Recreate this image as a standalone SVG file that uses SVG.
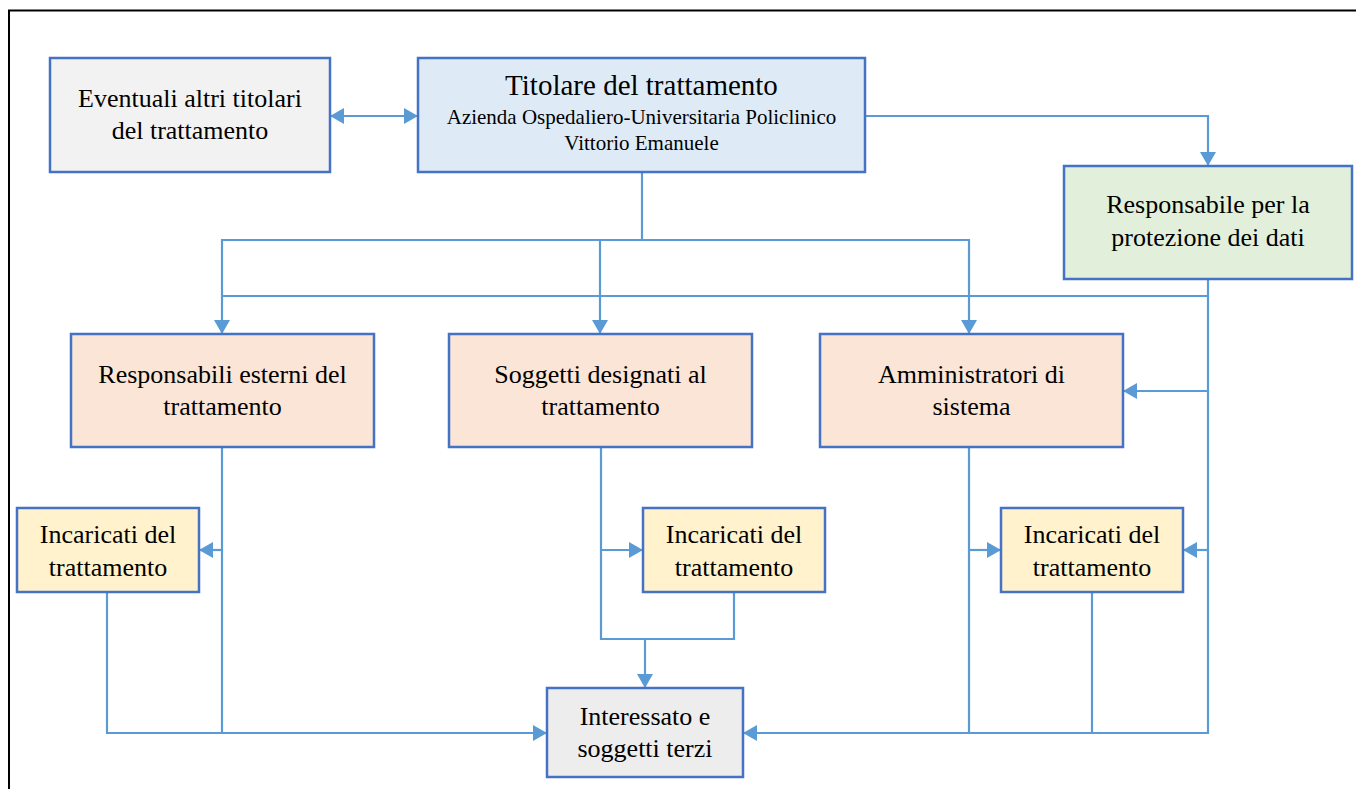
<svg xmlns="http://www.w3.org/2000/svg" width="1356" height="789" viewBox="0 0 1356 789">
<style>
.box{stroke:#4472c4;stroke-width:2.5}
.t{font-family:"Liberation Serif","Times New Roman",serif;fill:#000;text-anchor:middle}
.b{font-size:26px}
.c{fill:none;stroke:#5b9bd5;stroke-width:2.2}
</style>
<defs>
<marker id="arr" viewBox="0 0 14 16" refX="14" refY="8" markerWidth="14" markerHeight="16" markerUnits="userSpaceOnUse" orient="auto-start-reverse">
<path d="M0,0 L14,8 L0,16 z" fill="#5b9bd5"/>
</marker>
</defs>
<rect x="0" y="0" width="1356" height="789" fill="#fff"/>
<rect x="9" y="10.5" width="1400" height="900" fill="none" stroke="#000" stroke-width="2"/>

<g id="connectors">
<path class="c" d="M330,116 H418" marker-start="url(#arr)" marker-end="url(#arr)"/>
<path class="c" d="M865,116 H1208 V166" marker-end="url(#arr)"/>
<path class="c" d="M642,172 V240 H222 V334" marker-end="url(#arr)"/>
<path class="c" d="M642,240 H969 V334" marker-end="url(#arr)"/>
<path class="c" d="M600,240 V334" marker-end="url(#arr)"/>
<path class="c" d="M1208,279 V733 H743" marker-end="url(#arr)"/>
<path class="c" d="M1208,296 H222"/>
<path class="c" d="M1208,391 H1123" marker-end="url(#arr)"/>
<path class="c" d="M1208,550 H1183" marker-end="url(#arr)"/>
<path class="c" d="M222,447 V733"/>
<path class="c" d="M222,550 H199" marker-end="url(#arr)"/>
<path class="c" d="M107,592 V733 H547" marker-end="url(#arr)"/>
<path class="c" d="M601,447 V639 H734 V592"/>
<path class="c" d="M601,550 H643" marker-end="url(#arr)"/>
<path class="c" d="M645,639 V688" marker-end="url(#arr)"/>
<path class="c" d="M969,447 V733"/>
<path class="c" d="M969,550 H1001" marker-end="url(#arr)"/>
<path class="c" d="M1092,592 V733"/>
</g>

<g id="eventuali">
<rect class="box" x="50" y="58" width="280" height="114" fill="#f2f2f2"/>
<text class="t b" x="190" y="107">Eventuali altri titolari</text>
<text class="t b" x="190" y="139">del trattamento</text>
</g>

<g id="titolare">
<rect class="box" x="418" y="58" width="447" height="114" fill="#deebf7"/>
<text class="t" x="641.5" y="95" font-size="29">Titolare del trattamento</text>
<text class="t" x="641.5" y="124" font-size="21">Azienda Ospedaliero-Universitaria Policlinico</text>
<text class="t" x="641.5" y="150" font-size="21">Vittorio Emanuele</text>
</g>

<g id="rpd">
<rect class="box" x="1064" y="166" width="288" height="113" fill="#e2efda"/>
<text class="t b" x="1208" y="213">Responsabile per la</text>
<text class="t b" x="1208" y="246">protezione dei dati</text>
</g>

<g id="resp-esterni">
<rect class="box" x="71" y="334" width="303" height="113" fill="#fbe5d6"/>
<text class="t b" x="222.5" y="383">Responsabili esterni del</text>
<text class="t b" x="222.5" y="415">trattamento</text>
</g>

<g id="soggetti">
<rect class="box" x="449" y="334" width="303" height="113" fill="#fbe5d6"/>
<text class="t b" x="600.5" y="383">Soggetti designati al</text>
<text class="t b" x="600.5" y="415">trattamento</text>
</g>

<g id="amministratori">
<rect class="box" x="820" y="334" width="303" height="113" fill="#fbe5d6"/>
<text class="t b" x="971.5" y="383">Amministratori di</text>
<text class="t b" x="971.5" y="415">sistema</text>
</g>

<g id="incaricati-1">
<rect class="box" x="17" y="508" width="182" height="84" fill="#fff2cc"/>
<text class="t b" x="108" y="543">Incaricati del</text>
<text class="t b" x="108" y="576">trattamento</text>
</g>

<g id="incaricati-2">
<rect class="box" x="643" y="508" width="182" height="84" fill="#fff2cc"/>
<text class="t b" x="734" y="543">Incaricati del</text>
<text class="t b" x="734" y="576">trattamento</text>
</g>

<g id="incaricati-3">
<rect class="box" x="1001" y="508" width="182" height="84" fill="#fff2cc"/>
<text class="t b" x="1092" y="543">Incaricati del</text>
<text class="t b" x="1092" y="576">trattamento</text>
</g>

<g id="interessato">
<rect class="box" x="547" y="688" width="196" height="89" fill="#ededed"/>
<text class="t b" x="645" y="725">Interessato e</text>
<text class="t b" x="645" y="757">soggetti terzi</text>
</g>
</svg>
